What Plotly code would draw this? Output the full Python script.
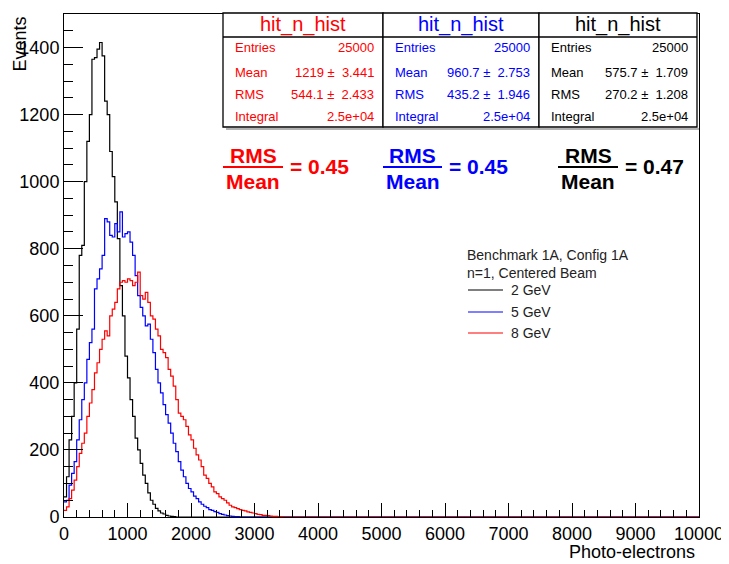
import plotly.graph_objects as go

# ---------------- data ----------------
bin_width = 40
n_bins = 250

counts_2gev = [60, 120, 230, 300, 400, 560, 780, 810, 1000, 1120,
               1200, 1365, 1370, 1395, 1415, 1375, 1240, 1200, 1090, 1015,
               940, 830, 690, 600, 480, 415, 350, 300, 235, 200,
               160, 125, 100, 72, 50, 38, 26, 18, 12, 9,
               5, 3, 2, 1]

counts_5gev = [45, 50, 95, 130, 165, 230, 290, 350, 400, 470,
               520, 560, 680, 710, 740, 780, 890, 880, 840, 835,
               875, 850, 910, 835, 845, 850, 820, 780, 720, 660,
               625, 600, 570, 575, 530, 490, 440, 400, 370, 335,
               305, 280, 250, 220, 195, 165, 140, 120, 100, 85,
               75, 62, 55, 45, 38, 32, 28, 22, 20, 16,
               14, 10, 8, 6, 4, 3, 2, 1, 1]

counts_8gev = [20, 30, 55, 80, 110, 150, 190, 220, 250, 300,
               340, 380, 430, 460, 500, 530, 555, 540, 600, 620,
               640, 680, 700, 705, 700, 710, 705, 690, 700, 730,
               660, 650, 670, 640, 600, 590, 560, 540, 500, 490,
               475, 440, 420, 390, 350, 310, 300, 290, 270, 245,
               230, 205, 185, 170, 150, 125, 115, 100, 90, 75,
               70, 60, 55, 50, 42, 35, 30, 28, 25, 22,
               20, 18, 15, 14, 12, 10, 8, 7, 5, 5,
               4, 3, 2, 2, 1, 1]

series_names = ["2 GeV", "5 GeV", "8 GeV"]
series_colors = ["#000000", "#0000ff", "#ff0000"]

stat_titles = ["hit_n_hist", "hit_n_hist", "hit_n_hist"]
stat_entries = ["25000", "25000", "25000"]
stat_mean = ["1219 \u00b1  3.441", "960.7 \u00b1  2.753", "575.7 \u00b1  1.709"]
stat_rms = ["544.1 \u00b1  2.433", "435.2 \u00b1  1.946", "270.2 \u00b1  1.208"]
stat_integral = ["2.5e+04", "2.5e+04", "2.5e+04"]
stat_colors = ["#ff0000", "#0000ff", "#000000"]
ratio_values = ["0.45", "0.45", "0.47"]

legend_header = ["Benchmark 1A, Config 1A", "n=1, Centered Beam"]

y_ticks = [0, 200, 400, 600, 800, 1000, 1200, 1400]
x_ticks = [0, 1000, 2000, 3000, 4000, 5000, 6000, 7000, 8000, 9000, 10000]

# ---------------- figure ----------------
WIN_W, WIN_H = 729, 564
OFF = 8                       # default page body margin
W, H = WIN_W - OFF, WIN_H - OFF
L, R, T, B = 64, 699, 14, 517  # plot frame in window pixels
FONT = "Liberation Sans, Arial, Helvetica, sans-serif"


def px(x):
    return (x - L) / (R - L)


def py(y):
    return (B - y) / (B - T)


def step_xy(counts):
    full = list(counts) + [0] * (n_bins - len(counts))
    edges = [i * bin_width for i in range(n_bins + 1)]
    return edges, full + [full[-1]]


fig = go.Figure()
for counts, name, color in [(counts_2gev, series_names[0], series_colors[0]),
                            (counts_5gev, series_names[1], series_colors[1]),
                            (counts_8gev, series_names[2], series_colors[2])]:
    xs, ys = step_xy(counts)
    fig.add_trace(go.Scatter(x=xs, y=ys, mode="lines", line_shape="hv",
                             line=dict(color=color, width=1.2), name=name,
                             showlegend=False, cliponaxis=True))

shapes = []
annots = []

# stats boxes
box_x = [223, 383, 539, 697]
box_top, box_sep, box_bot = 13, 37, 127
for i in range(3):
    x0, x1 = box_x[i], box_x[i + 1]
    c = stat_colors[i]
    shapes.append(dict(type="rect", xref="paper", yref="paper",
                       x0=px(x0), x1=px(x1), y0=py(box_bot), y1=py(box_top),
                       line=dict(color="#000", width=1.3), fillcolor="white", layer="above"))
    shapes.append(dict(type="line", xref="paper", yref="paper",
                       x0=px(x0), x1=px(x1), y0=py(box_sep), y1=py(box_sep),
                       line=dict(color="#000", width=1.3), layer="above"))
    annots.append(dict(x=px((x0 + x1) / 2), y=py(25), xref="paper", yref="paper",
                       text=stat_titles[i], showarrow=False, xanchor="center", yanchor="middle",
                       font=dict(family=FONT, size=20, color=c)))
    rows = [("Entries", stat_entries[i], 48), ("Mean", stat_mean[i], 72),
            ("RMS", stat_rms[i], 95), ("Integral", stat_integral[i], 116)]
    for lab, val, yy in rows:
        annots.append(dict(x=px(x0 + 10), y=py(yy), xref="paper", yref="paper",
                           text=lab, showarrow=False, xanchor="left", yanchor="middle",
                           font=dict(family=FONT, size=13, color=c)))
        annots.append(dict(x=px(x1 - 7), y=py(yy), xref="paper", yref="paper",
                           text=val, showarrow=False, xanchor="right", yanchor="middle",
                           font=dict(family=FONT, size=13, color=c)))
shapes.append(dict(type="line", xref="paper", yref="paper",
                   x0=px(226), x1=px(699), y0=py(129), y1=py(129),
                   line=dict(color="#999", width=1.5), layer="above"))

# RMS / Mean fractions
frac_bars = [(223, 283), (383, 442), (558, 618)]
for i in range(3):
    bx0, bx1 = frac_bars[i]
    c = stat_colors[i]
    cx = (bx0 + bx1) / 2
    shapes.append(dict(type="line", xref="paper", yref="paper",
                       x0=px(bx0), x1=px(bx1), y0=py(167), y1=py(167),
                       line=dict(color=c, width=2), layer="above"))
    annots.append(dict(x=px(cx), y=py(155), xref="paper", yref="paper", text="<b>RMS</b>",
                       showarrow=False, xanchor="center", yanchor="middle",
                       font=dict(family=FONT, size=21, color=c)))
    annots.append(dict(x=px(cx), y=py(181), xref="paper", yref="paper", text="<b>Mean</b>",
                       showarrow=False, xanchor="center", yanchor="middle",
                       font=dict(family=FONT, size=21, color=c)))
    annots.append(dict(x=px(bx1 + 5), y=py(166), xref="paper", yref="paper",
                       text="<b>= " + ratio_values[i] + "</b>",
                       showarrow=False, xanchor="left", yanchor="middle",
                       font=dict(family=FONT, size=21, color=c)))

# legend (manual)
annots.append(dict(x=px(465), y=py(255), xref="paper", yref="paper", text=legend_header[0],
                   showarrow=False, xanchor="left", yanchor="middle",
                   font=dict(family=FONT, size=14, color="#222")))
annots.append(dict(x=px(465), y=py(273), xref="paper", yref="paper", text=legend_header[1],
                   showarrow=False, xanchor="left", yanchor="middle",
                   font=dict(family=FONT, size=14, color="#222")))
leg_y = [290, 312, 333]
for i in range(3):
    shapes.append(dict(type="line", xref="paper", yref="paper",
                       x0=px(468), x1=px(503), y0=py(leg_y[i]), y1=py(leg_y[i]),
                       line=dict(color=series_colors[i], width=1.2), layer="above"))
    annots.append(dict(x=px(509), y=py(leg_y[i]), xref="paper", yref="paper", text=series_names[i],
                       showarrow=False, xanchor="left", yanchor="middle",
                       font=dict(family=FONT, size=14, color="#222")))

# axis titles
annots.append(dict(x=px(697), y=py(552), xref="paper", yref="paper", text="Photo-electrons",
                   showarrow=False, xanchor="right", yanchor="middle",
                   font=dict(family=FONT, size=18, color="#000")))
annots.append(dict(x=px(19), y=py(15), xref="paper", yref="paper", text="Events",
                   showarrow=False, xanchor="center", yanchor="top", textangle=-90,
                   font=dict(family=FONT, size=18, color="#000")))

fig.update_layout(
    width=W, height=H,
    margin=dict(l=L - OFF, r=WIN_W - R, t=T - OFF, b=WIN_H - B, autoexpand=False),
    paper_bgcolor="white", plot_bgcolor="white",
    shapes=shapes, annotations=annots,
    showlegend=False,
    font=dict(family=FONT, size=18, color="#000"),
)
fig.update_xaxes(range=[0, 10000], tickvals=x_ticks, ticktext=[str(v) for v in x_ticks],
                 automargin=False,
                 ticks="inside", ticklen=14, tickwidth=1, tickcolor="#000",
                 minor=dict(dtick=200, ticks="inside", ticklen=7, tickcolor="#000", showgrid=False),
                 showline=True, linecolor="#000", linewidth=1, mirror=True,
                 showgrid=False, zeroline=False,
                 tickfont=dict(family=FONT, size=18, color="#000"))
fig.update_yaxes(range=[0, 1500], tickvals=y_ticks, ticktext=[str(v) for v in y_ticks],
                 automargin=False,
                 ticks="inside", ticklen=19, tickwidth=1, tickcolor="#000",
                 minor=dict(dtick=50, ticks="inside", ticklen=9, tickcolor="#000", showgrid=False),
                 showline=True, linecolor="#000", linewidth=1, mirror=True,
                 showgrid=False, zeroline=False,
                 tickfont=dict(family=FONT, size=18, color="#000"))

fig.write_html("out.html")
